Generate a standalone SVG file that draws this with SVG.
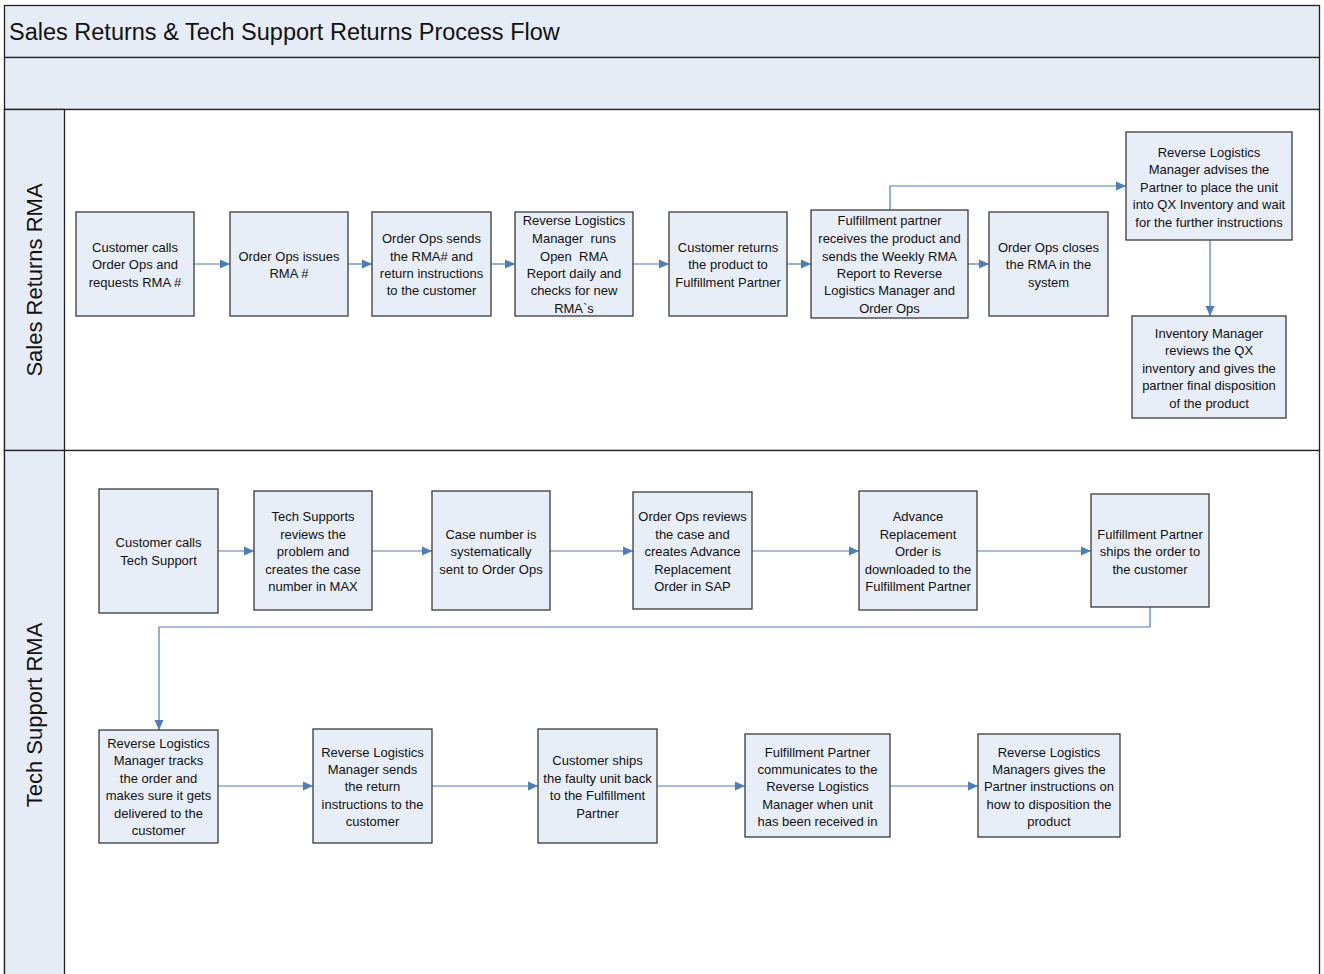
<svg xmlns="http://www.w3.org/2000/svg" width="1324" height="974" viewBox="0 0 1324 974">
<style>
.band{fill:#e6ecf6;stroke:#222;stroke-width:1.3}
.lane{fill:#fff;stroke:#222;stroke-width:1.3}
.box{fill:#e8eef8;stroke:#3a3a3a;stroke-width:1.3}
.t{font-family:"Liberation Sans",Arial,sans-serif;font-size:13px;fill:#111;text-anchor:middle}
.title{font-family:"Liberation Sans",Arial,sans-serif;font-size:23.5px;fill:#111}
.ll{font-family:"Liberation Sans",Arial,sans-serif;font-size:22px;fill:#111;text-anchor:middle}
.c{fill:none;stroke:#4a7ebf;stroke-width:1.2}
</style>
<defs>
<marker id="ah" markerUnits="userSpaceOnUse" markerWidth="11" markerHeight="11" refX="10" refY="5.5" orient="auto">
<path d="M0,1 L10,5.5 L0,10 Z" fill="#4a7ebf"/>
</marker>
</defs>
<rect x="0" y="0" width="1324" height="974" fill="#fff"/>
<g id="frame">
<rect class="band" x="4.5" y="5.5" width="1315" height="52"/>
<rect class="band" x="4.5" y="57.5" width="1315" height="52"/>
<rect class="lane" x="4.5" y="109.5" width="1315" height="341"/>
<rect class="lane" x="4.5" y="450.5" width="1315" height="530"/>
<rect class="band" x="4.5" y="109.5" width="60" height="341"/>
<rect class="band" x="4.5" y="450.5" width="60" height="530"/>
<text class="title" x="9" y="40">Sales Returns &amp; Tech Support Returns Process Flow</text>
<text class="ll" transform="translate(42,280) rotate(-90)">Sales Returns RMA</text>
<text class="ll" transform="translate(42,715) rotate(-90)">Tech Support RMA</text>
</g>
<g id="connectors">
<path class="c" marker-end="url(#ah)" d="M194,264 H230"/>
<path class="c" marker-end="url(#ah)" d="M348,264 H372"/>
<path class="c" marker-end="url(#ah)" d="M491,264 H515"/>
<path class="c" marker-end="url(#ah)" d="M633,264 H669"/>
<path class="c" marker-end="url(#ah)" d="M787,264 H811"/>
<path class="c" marker-end="url(#ah)" d="M968,264 H989"/>
<path class="c" marker-end="url(#ah)" d="M890,210 V186 H1126"/>
<path class="c" marker-end="url(#ah)" d="M1210,240 V316"/>
<path class="c" marker-end="url(#ah)" d="M218,551 H254"/>
<path class="c" marker-end="url(#ah)" d="M372,551 H432"/>
<path class="c" marker-end="url(#ah)" d="M550,551 H633"/>
<path class="c" marker-end="url(#ah)" d="M752,551 H859"/>
<path class="c" marker-end="url(#ah)" d="M977,551 H1091"/>
<path class="c" marker-end="url(#ah)" d="M1150,607 V627 H159 V730"/>
<path class="c" marker-end="url(#ah)" d="M218,786 H313"/>
<path class="c" marker-end="url(#ah)" d="M432,786 H538"/>
<path class="c" marker-end="url(#ah)" d="M657,786 H745"/>
<path class="c" marker-end="url(#ah)" d="M890,786 H978"/>
</g>
<g id="n1"><rect class="box" x="76" y="212" width="118" height="104"/>
<text class="t"><tspan x="135" y="252">Customer calls</tspan><tspan x="135" y="269">Order Ops and</tspan><tspan x="135" y="287">requests RMA #</tspan></text></g>
<g id="n2"><rect class="box" x="230" y="212" width="118" height="104"/>
<text class="t"><tspan x="289" y="261">Order Ops issues</tspan><tspan x="289" y="278">RMA #</tspan></text></g>
<g id="n3"><rect class="box" x="372" y="212" width="119" height="104"/>
<text class="t"><tspan x="431.5" y="243">Order Ops sends</tspan><tspan x="431.5" y="261">the RMA# and</tspan><tspan x="431.5" y="278">return instructions</tspan><tspan x="431.5" y="295">to the customer</tspan></text></g>
<g id="n4"><rect class="box" x="515" y="212" width="118" height="104"/>
<text class="t" style="white-space:pre"><tspan x="574" y="225">Reverse Logistics</tspan><tspan x="574" y="243">Manager  runs</tspan><tspan x="574" y="261">Open  RMA</tspan><tspan x="574" y="278">Report daily and</tspan><tspan x="574" y="295">checks for new</tspan><tspan x="574" y="313">RMA`s</tspan></text></g>
<g id="n5"><rect class="box" x="669" y="212" width="118" height="104"/>
<text class="t"><tspan x="728" y="252">Customer returns</tspan><tspan x="728" y="269">the product to</tspan><tspan x="728" y="287">Fulfillment Partner</tspan></text></g>
<g id="n6"><rect class="box" x="811" y="210" width="157" height="108"/>
<text class="t"><tspan x="889.5" y="225">Fulfillment partner</tspan><tspan x="889.5" y="243">receives the product and</tspan><tspan x="889.5" y="261">sends the Weekly RMA</tspan><tspan x="889.5" y="278">Report to Reverse</tspan><tspan x="889.5" y="295">Logistics Manager and</tspan><tspan x="889.5" y="313">Order Ops</tspan></text></g>
<g id="n7"><rect class="box" x="989" y="212" width="119" height="104"/>
<text class="t"><tspan x="1048.5" y="252">Order Ops closes</tspan><tspan x="1048.5" y="269">the RMA in the</tspan><tspan x="1048.5" y="287">system</tspan></text></g>
<g id="n8"><rect class="box" x="1126" y="132" width="166" height="108"/>
<text class="t"><tspan x="1209" y="157">Reverse Logistics</tspan><tspan x="1209" y="174">Manager advises the</tspan><tspan x="1209" y="192">Partner to place the unit</tspan><tspan x="1209" y="209">into QX Inventory and wait</tspan><tspan x="1209" y="227">for the further instructions</tspan></text></g>
<g id="n9"><rect class="box" x="1132" y="316" width="154" height="102"/>
<text class="t"><tspan x="1209" y="338">Inventory Manager</tspan><tspan x="1209" y="355">reviews the QX</tspan><tspan x="1209" y="373">inventory and gives the</tspan><tspan x="1209" y="390">partner final disposition</tspan><tspan x="1209" y="408">of the product</tspan></text></g>
<g id="m1"><rect class="box" x="99" y="489" width="119" height="124"/>
<text class="t"><tspan x="158.5" y="547">Customer calls</tspan><tspan x="158.5" y="565">Tech Support</tspan></text></g>
<g id="m2"><rect class="box" x="254" y="491" width="118" height="119"/>
<text class="t"><tspan x="313" y="521">Tech Supports</tspan><tspan x="313" y="539">reviews the</tspan><tspan x="313" y="556">problem and</tspan><tspan x="313" y="574">creates the case</tspan><tspan x="313" y="591">number in MAX</tspan></text></g>
<g id="m3"><rect class="box" x="432" y="491" width="118" height="119"/>
<text class="t"><tspan x="491" y="539">Case number is</tspan><tspan x="491" y="556">systematically</tspan><tspan x="491" y="574">sent to Order Ops</tspan></text></g>
<g id="m4"><rect class="box" x="633" y="492" width="119" height="117"/>
<text class="t"><tspan x="692.5" y="521">Order Ops reviews</tspan><tspan x="692.5" y="539">the case and</tspan><tspan x="692.5" y="556">creates Advance</tspan><tspan x="692.5" y="574">Replacement</tspan><tspan x="692.5" y="591">Order in SAP</tspan></text></g>
<g id="m5"><rect class="box" x="859" y="491" width="118" height="119"/>
<text class="t"><tspan x="918" y="521">Advance</tspan><tspan x="918" y="539">Replacement</tspan><tspan x="918" y="556">Order is</tspan><tspan x="918" y="574">downloaded to the</tspan><tspan x="918" y="591">Fulfillment Partner</tspan></text></g>
<g id="m6"><rect class="box" x="1091" y="494" width="118" height="113"/>
<text class="t"><tspan x="1150" y="539">Fulfillment Partner</tspan><tspan x="1150" y="556">ships the order to</tspan><tspan x="1150" y="574">the customer</tspan></text></g>
<g id="m7"><rect class="box" x="99" y="730" width="119" height="113"/>
<text class="t"><tspan x="158.5" y="748">Reverse Logistics</tspan><tspan x="158.5" y="765">Manager tracks</tspan><tspan x="158.5" y="783">the order and</tspan><tspan x="158.5" y="800">makes sure it gets</tspan><tspan x="158.5" y="818">delivered to the</tspan><tspan x="158.5" y="835">customer</tspan></text></g>
<g id="m8"><rect class="box" x="313" y="729" width="119" height="114"/>
<text class="t"><tspan x="372.5" y="757">Reverse Logistics</tspan><tspan x="372.5" y="774">Manager sends</tspan><tspan x="372.5" y="791">the return</tspan><tspan x="372.5" y="809">instructions to the</tspan><tspan x="372.5" y="826">customer</tspan></text></g>
<g id="m9"><rect class="box" x="538" y="729" width="119" height="114"/>
<text class="t"><tspan x="597.5" y="765">Customer ships</tspan><tspan x="597.5" y="783">the faulty unit back</tspan><tspan x="597.5" y="800">to the Fulfillment</tspan><tspan x="597.5" y="818">Partner</tspan></text></g>
<g id="m10"><rect class="box" x="745" y="734" width="145" height="103"/>
<text class="t"><tspan x="817.5" y="757">Fulfillment Partner</tspan><tspan x="817.5" y="774">communicates to the</tspan><tspan x="817.5" y="791">Reverse Logistics</tspan><tspan x="817.5" y="809">Manager when unit</tspan><tspan x="817.5" y="826">has been received in</tspan></text></g>
<g id="m11"><rect class="box" x="978" y="734" width="142" height="103"/>
<text class="t"><tspan x="1049" y="757">Reverse Logistics</tspan><tspan x="1049" y="774">Managers gives the</tspan><tspan x="1049" y="791">Partner instructions on</tspan><tspan x="1049" y="809">how to disposition the</tspan><tspan x="1049" y="826">product</tspan></text></g>
</svg>
